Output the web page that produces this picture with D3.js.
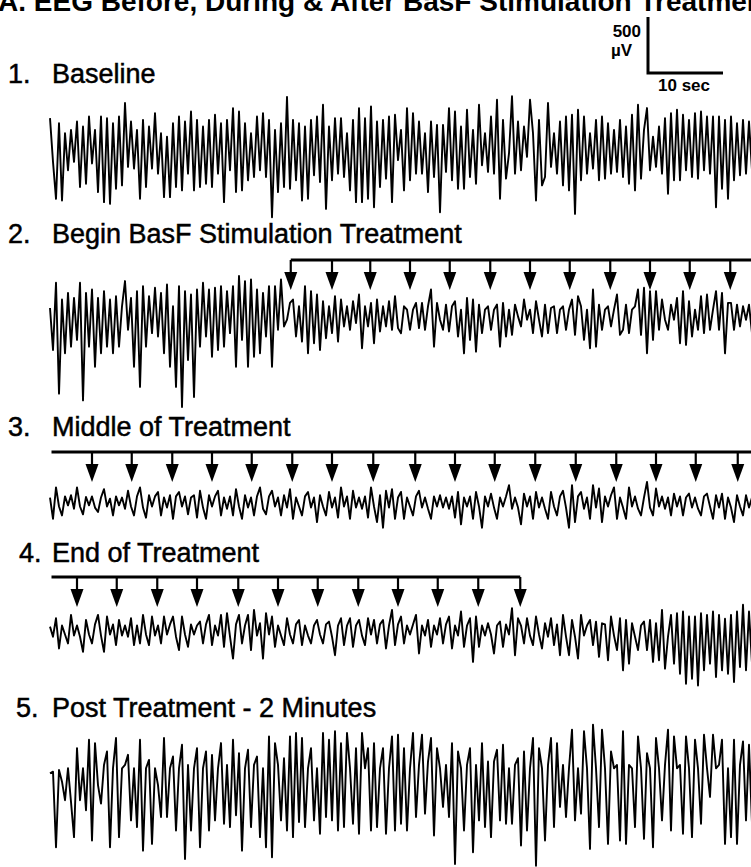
<!DOCTYPE html>
<html>
<head>
<meta charset="utf-8">
<script src="https://cdn.jsdelivr.net/npm/d3@7"></script>
<style>
  html, body { margin: 0; padding: 0; background: #fff; }
  svg { display: block; }
</style>
</head>
<body>
<script>
// EEG amplitude (µV), one sample every 0.4 s
const sampleInterval = 0.4;

const trace1 = [
  195,-195,-525,150,-540,60,-270,90,-195,165,
  -420,120,-390,210,-210,90,-465,210,-555,195,
  -570,150,-435,210,-405,330,-240,165,-255,90,
  -525,180,-420,120,-255,240,-300,60,-510,30,
  -510,150,-420,210,-450,165,-300,255,-450,180,
  -420,120,-390,180,-420,225,-300,150,-555,180,
  -270,285,-465,255,-450,150,-360,60,-330,210,
  -270,240,-330,180,-690,90,-465,150,-420,385,
  -435,180,-360,150,-540,120,-525,180,-315,210,
  -375,315,-615,120,-360,195,-300,195,-330,60,
  -450,180,-555,285,-555,195,-525,300,-600,165,
  -420,180,-345,210,-555,225,-180,
  90,-450,285,-360,240,-300,165,-300,60,-465,
  165,-330,135,-645,135,-285,285,-360,255,-435,
  120,-435,270,-330,90,-390,315,-225,60,-285,
  210,-300,360,-525,180,-345,-120,390,-300,165,
  -270,120,-150,360,60,-540,180,-405,-330,330,
  -240,60,-300,165,-405,210,-450,225,-660,270,
  -360,210,-300,60,-255,180,-360,210,-345,150,
  -300,90,-285,180,-330,120,-390,225,-450,315,
  -345,90,285,-270,30,-240,120,-300,195,-480,
  240,-360,270,-360,225,-270,180,-330,240,-345,
  255,-270,210,-300,210,-600,210,-435,180,-525,
  210,-360,150,-315,180,-300,165,-270,90
];

const trace2 = [
  45,-330,270,-720,120,-360,180,-300,135,-240,
  270,-780,180,-300,210,-480,135,-360,195,-300,
  120,-360,150,-300,60,285,-150,135,-480,195,
  -660,240,-300,150,-180,225,-210,180,-360,255,
  -480,60,-660,240,-840,195,-420,165,-750,210,
  -300,270,-210,210,-390,225,-330,240,-300,195,
  -180,240,-480,330,-240,285,-480,300,-390,210,
  -360,180,-210,240,-480,240,-150,300,-120,-60,
  90,120,-210,60,-255,240,-360,195,-270,165,
  -330,105,-225,60,-180,150,-255,120,-120,60,
  -150,105,-90,165,-315,60,-120,90,-270,120,
  -165,60,-120,105,-150,150,-135,
  -180,60,30,-150,30,90,-135,90,-150,60,
  210,-300,90,-60,-150,75,-165,60,105,-210,
  30,-360,135,-240,120,-345,75,-180,30,60,
  -150,30,75,-300,90,-210,30,-195,75,-30,
  -120,120,-60,30,-180,105,-60,-210,75,-180,
  45,60,-180,30,60,-150,30,120,-195,150,
  60,-240,30,-315,210,-300,75,-150,30,60,
  -120,30,165,-195,-150,75,-180,30,60,210,
  -195,225,-360,195,-240,195,-150,120,-60,-150,
  75,-60,135,-270,195,-285,105,-210,30,-150,
  150,-180,165,-150,30,195,-150,180,-360,90,
  90,-150,75,-120,60,-60,75,-180
];

const trace3 = [
  40,-150,130,-40,-120,50,-30,60,-60,130,
  -40,-110,45,-30,50,-50,-90,40,115,-40,
  30,-120,50,-30,40,-60,100,-40,-120,50,
  130,-50,-140,60,-40,50,90,-120,40,-50,
  60,-150,50,90,-40,50,-110,40,60,-140,
  100,-50,-150,60,-40,50,100,-120,40,-60,
  50,-120,115,-40,-150,60,-50,40,-120,50,
  130,-60,-110,50,100,-40,40,-120,60,-50,
  115,-150,40,-40,-120,50,90,-50,40,-180,
  60,-40,-120,90,-50,40,-140,130,-40,50,
  -150,100,-50,40,-60,50,-140,130,-40,-180,
  60,-230,100,-50,115,-150,40,
  90,-150,40,-40,-120,50,100,-50,40,-60,
  -150,50,-40,60,-50,40,-60,50,-140,90,
  -200,40,-40,50,-150,90,-40,-230,50,-40,
  75,-50,-150,40,-40,50,150,-60,40,-50,
  -200,75,-40,50,-150,90,-50,40,-60,-150,
  90,-40,-120,50,100,-50,-230,150,-180,50,
  90,-60,40,-150,150,-50,120,-180,50,-40,
  60,130,-150,40,-50,-150,130,-40,50,-60,
  -120,40,180,-50,-120,120,-40,50,-60,40,
  -120,75,-40,50,-120,40,75,-50,40,-60,
  -120,50,75,-40,-150,60,-50,75,-150,40,
  -50,-180,60,-40,-120,60,-50,40
];

const trace4 = [
  30,-60,105,-165,40,-40,-120,135,-50,40,
  -60,-195,90,-40,-120,50,135,-50,-195,120,
  -40,50,-135,90,-50,40,-60,105,-135,40,
  -120,135,-40,-135,120,-50,40,-120,120,-40,
  50,120,-60,-180,120,-40,-150,50,-40,40,
  75,-120,50,135,-135,40,-50,135,-150,150,
  -60,-255,50,135,-120,40,135,-180,180,-50,
  60,-255,150,-40,120,-150,40,-50,-135,105,
  -40,-120,50,90,-135,40,-50,-120,40,90,
  -40,-120,50,75,-60,-225,40,105,-135,40,
  105,-150,40,90,-50,-135,105,-40,90,-120,
  50,90,-165,40,180,-135,50,
  120,-120,40,-40,50,135,-210,40,-50,90,
  -150,40,-40,105,-120,50,120,-165,40,-50,
  165,-150,40,105,-285,120,-150,40,-50,60,
  -40,-210,40,75,-150,50,-40,195,-225,105,
  40,-120,105,-50,-135,120,-40,-165,60,-60,
  105,-135,50,-225,135,-60,-225,90,-60,-255,
  135,-50,40,90,-135,75,-240,60,50,-270,
  120,-50,-180,105,-360,90,-300,60,-60,-180,
  40,75,-180,90,-285,60,-270,180,-345,-60,
  135,-300,150,-390,165,-480,120,-435,120,-495,
  150,-360,135,-300,165,-420,135,-360,100,-390,
  135,-465,165,-330,225,-360,165,-300
];

const trace5 = [
  15,30,-645,45,-60,-225,60,-240,-555,240,
  -225,60,-315,315,-585,285,-90,-255,90,210,
  -645,60,330,-555,60,90,180,-405,60,-465,
  315,-675,60,135,-615,60,-90,-375,330,-375,
  60,165,-495,60,270,-750,90,-495,60,240,
  -645,60,210,-495,180,-405,60,285,-435,90,
  -465,315,-360,195,-675,60,225,-465,90,165,
  -555,60,-645,345,-735,285,90,-405,150,-495,
  345,-555,375,-420,330,-465,60,240,-405,60,
  -525,375,-375,315,-405,390,-495,285,-465,375,
  60,-435,240,-525,375,60,240,-495,285,-465,
  60,240,-525,60,345,-495,360,
  -435,240,-495,60,375,-375,90,360,-345,120,
  330,-540,240,60,-285,90,-375,285,-795,210,
  60,-495,90,240,-690,90,-405,285,-465,120,
  -555,120,225,-405,270,-435,60,-435,90,150,
  -630,210,-495,60,330,-810,240,60,-585,90,
  330,-465,285,-285,90,-375,60,405,-405,60,
  -345,390,60,-660,450,60,-465,405,60,-615,
  210,60,90,-585,390,-615,90,60,-465,345,
  60,-570,195,60,-645,330,60,-405,90,405,
  -495,345,60,90,-525,345,60,-555,315,60,
  -435,360,60,-195,360,60,90,315,-615,60,
  -555,315,-615,90,300,-405,270,-435
];

// Stimulation pulse times (s) marked by arrows on panels 2-4
const stim2 = [32.1, 37.6, 42.7, 48.0, 53.3, 58.7, 64.0, 69.3, 74.7, 80.0, 85.3, 90.7];
const stim3 = [5.6, 10.9, 16.3, 21.6, 26.9, 32.3, 37.6, 43.1, 48.7, 54.0, 59.3, 64.7, 70.1, 75.5, 80.8, 86.1, 91.7];
const stim4 = [3.6, 8.9, 14.3, 19.6, 25.1, 30.4, 35.7, 41.1, 46.4, 51.7, 57.1, 62.7];

// Time span (s) of the treatment bracket above each stimulated trace
const span2 = [32.1, 100];
const span3 = [0.2, 100];
const span4 = [0.2, 62.7];

const panelNumbers = ["1.", "2.", "3.", "4.", "5."];
const panelTitles = [
  "Baseline",
  "Begin BasF Stimulation Treatment",
  "Middle of Treatment",
  "End of Treatment",
  "Post Treatment - 2 Minutes"
];
const figureTitle = "A. EEG Before, During & After BasF Stimulation Treatment";
const scaleVoltage = 500;   // µV
const scaleTime = 10;       // s

// ---------------------------------------------------------------
const W = 751, H = 867;
const FONT = "'Liberation Sans', Arial, Helvetica, sans-serif";

const svg = d3.select("body").append("svg")
  .attr("width", W).attr("height", H)
  .attr("viewBox", `0 0 ${W} ${H}`);

// 7.5 px per second, traces start at x = 50
const x = d3.scaleLinear().domain([0, 100]).range([50, 800]);
const pxPer500uV = 56;

const panels = [
  { values: trace1, center: 140, numX: 8,  titleY: 83 },
  { values: trace2, center: 313, numX: 8,  titleY: 243, stim: stim2, span: span2, bracketY: 260 },
  { values: trace3, center: 502, numX: 8,  titleY: 436, stim: stim3, span: span3, bracketY: 452 },
  { values: trace4, center: 630, numX: 19, titleY: 562, stim: stim4, span: span4, bracketY: 577 },
  { values: trace5, center: 775, numX: 16, titleY: 717 }
];

// figure title (runs off the top edge)
svg.append("text")
  .attr("x", -2).attr("y", 11)
  .attr("font-family", FONT).attr("font-weight", "bold")
  .attr("font-size", 28).attr("fill", "#000")
  .text(figureTitle);

panels.forEach((p, k) => {
  const y = d3.scaleLinear()
    .domain([-scaleVoltage, scaleVoltage])
    .range([p.center + pxPer500uV, p.center - pxPer500uV]);

  const g = svg.append("g");

  // panel number + title
  g.append("text")
    .attr("x", p.numX).attr("y", p.titleY)
    .attr("font-family", FONT).attr("font-size", 27)
    .attr("fill", "#000").attr("stroke", "#000").attr("stroke-width", 0.5)
    .text(panelNumbers[k]);
  g.append("text")
    .attr("x", 52).attr("y", p.titleY)
    .attr("font-family", FONT).attr("font-size", 27)
    .attr("fill", "#000").attr("stroke", "#000").attr("stroke-width", 0.5)
    .text(panelTitles[k]);

  // EEG trace
  const line = d3.line()
    .x((d, i) => x(i * sampleInterval))
    .y(d => y(d));
  g.append("path")
    .datum(p.values)
    .attr("d", line)
    .attr("fill", "none")
    .attr("stroke", "#000")
    .attr("stroke-width", 1.9)
    .attr("stroke-linejoin", "round");

  // stimulation bracket and arrows
  if (p.stim) {
    const by = p.bracketY;
    g.append("line")
      .attr("x1", x(p.span[0])).attr("x2", x(p.span[1]))
      .attr("y1", by).attr("y2", by)
      .attr("stroke", "#000").attr("stroke-width", 3);

    const arrows = g.selectAll(".arrow").data(p.stim).enter().append("g")
      .attr("transform", d => `translate(${x(d)},${by})`);
    arrows.append("line")
      .attr("x1", 0).attr("x2", 0).attr("y1", 0).attr("y2", 13)
      .attr("stroke", "#000").attr("stroke-width", 2.2);
    arrows.append("path")
      .attr("d", "M-6.5,12 L6.5,12 L0,30 Z")
      .attr("fill", "#000");
  }
});

// calibration bar: 500 µV / 10 s
const barX = 648, barBottom = 73;
const barH = pxPer500uV * (scaleVoltage / 500);
const barW = x(scaleTime) - x(0);
svg.append("path")
  .attr("d", `M${barX},${barBottom - barH} L${barX},${barBottom} L${barX + barW},${barBottom}`)
  .attr("fill", "none").attr("stroke", "#000").attr("stroke-width", 3);

const calib = svg.append("g")
  .attr("font-family", FONT).attr("font-weight", "bold")
  .attr("font-size", 17).attr("fill", "#000");
calib.append("text").attr("x", 641).attr("y", 37).attr("text-anchor", "end").text(String(scaleVoltage));
calib.append("text").attr("x", 611).attr("y", 56).text("µV");
calib.append("text").attr("x", 658).attr("y", 91).text(`${scaleTime} sec`);
</script>
</body>
</html>
